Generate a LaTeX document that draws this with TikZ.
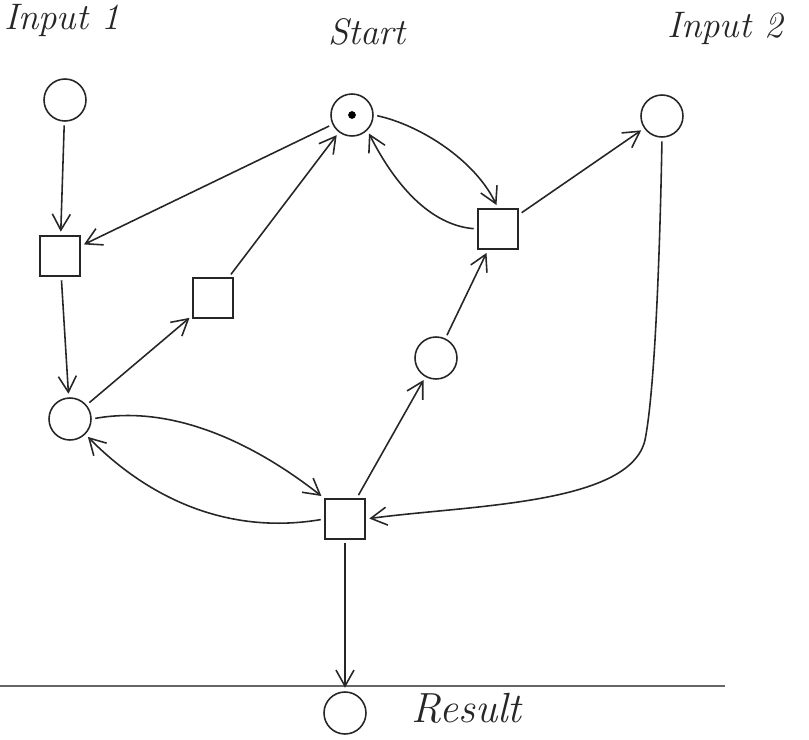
\documentclass[tikz,border=0pt]{standalone}
\usetikzlibrary{arrows.meta}
\begin{document}
\begin{tikzpicture}[x=0.02cm,y=-0.02cm,
  ink/.style={draw=black!85,line width=0.9pt},
  place/.style={ink,circle,minimum size=0.84cm,inner sep=0pt},
  trans/.style={ink,rectangle,minimum size=0.8cm,inner sep=0pt},
  arr/.style={ink,-{Straight Barb[length=3.2mm,width=3.6mm]},shorten >=2pt,shorten <=2pt},
  lab/.style={font=\fontsize{21}{24}\selectfont\itshape,text=black!85}]
\useasboundingbox (0,0) rectangle (809,740);

% labels
\node[lab] (lin1) at (62,20) {Input 1};
\node[lab] (lstart) at (367,32) {Start};
\node[lab] (lin2) at (725,28) {Input 2};

% places
\node[place] (in1) at (65,100) {};
\node[place] (start) at (352,115) {};
\fill[black] (start) circle (2.2pt);
\node[place] (in2) at (662,116) {};
\node[place] (pl) at (70,419) {};
\node[place] (pm) at (436,358) {};
\node[place] (res) at (345,713) {};
\node[lab,anchor=west,font=\fontsize{24}{28}\selectfont\itshape] (lres) at (405,708) {Result};

% transitions
\node[trans] (t1) at (60,256) {};
\node[trans] (t2) at (213,298) {};
\node[trans] (t3) at (498,229) {};
\node[trans] (t4) at (345,519) {};

% baseline under the net
\coordinate (ba) at (0,686);
\coordinate (bb) at (725,686);
\draw[black!60,line width=0.6pt] (ba) -- (bb);

% arcs
\draw[arr] (in1) -- (t1);
\draw[arr] (t1) -- (pl);
\draw[arr] (start) -- (t1);
\draw[arr] (t2) -- (start);
\draw[arr] (pl) -- (t2);
\draw[arr] (start.east) .. controls (420,125) and (475,160) .. (t3.north);
\draw[arr] (t3.west) .. controls (430,225) and (395,185) .. (start.south east);
\draw[arr] (t3) -- (in2);
\draw[arr] (pm) -- (t3);
\draw[arr] (in2.south) .. controls (660,250) and (655,390) .. (645,440)
  .. controls (630,505) and (470,505) .. (t4.east);
\draw[arr] (t4) -- (pm);
\draw[arr] (pl.east) .. controls (170,405) and (250,440) .. (t4.north west);
\draw[arr] (t4.west) .. controls (230,535) and (150,500) .. (pl.south east);
\draw[arr] (t4) -- (res);
\end{tikzpicture}
\end{document}
